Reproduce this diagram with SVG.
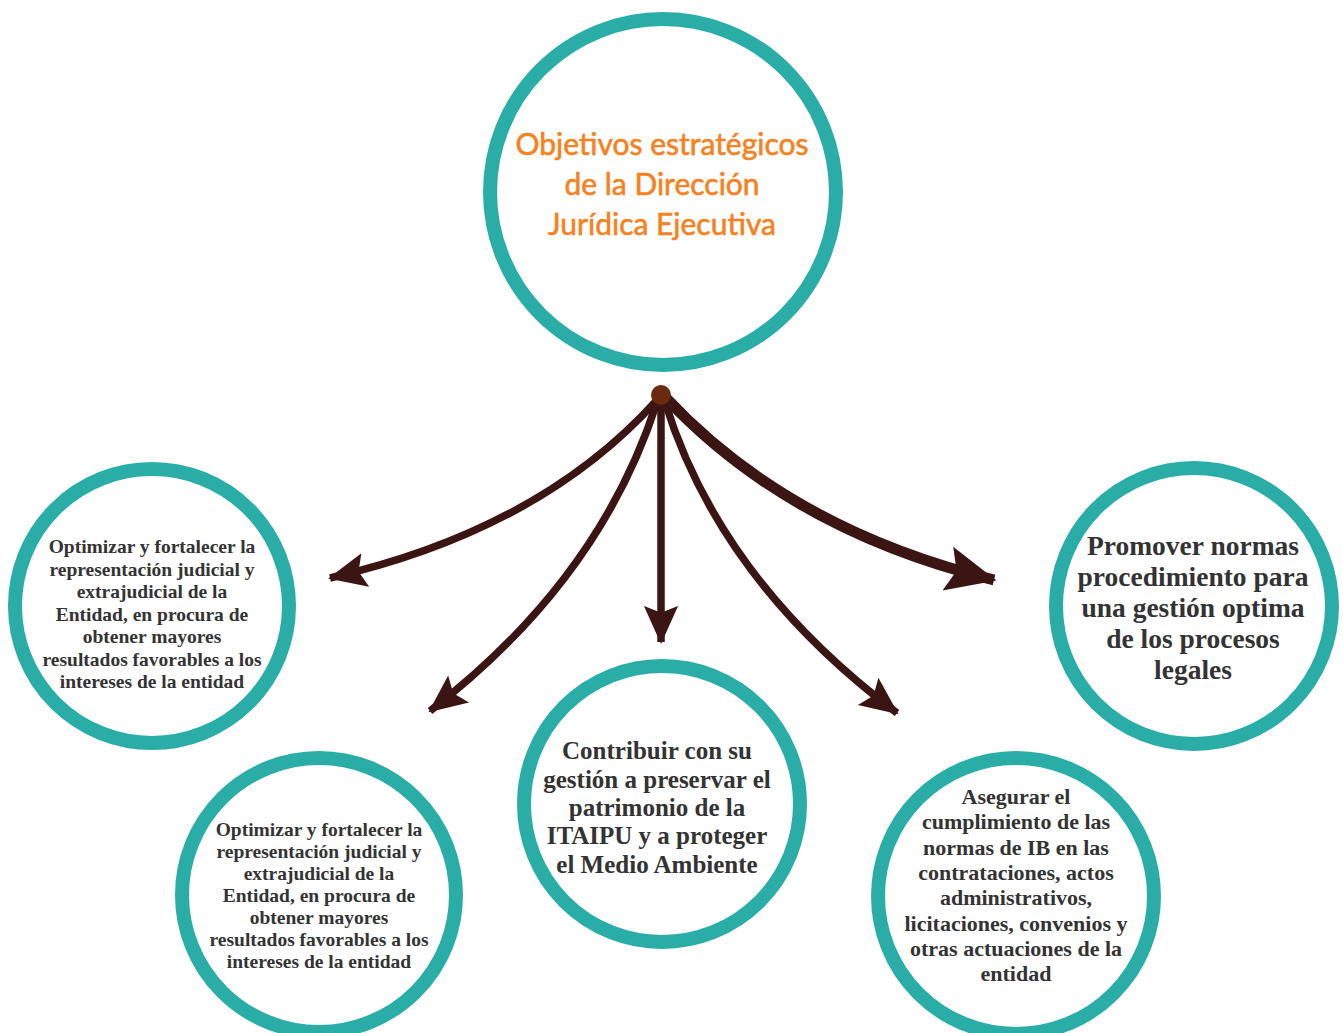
<svg xmlns="http://www.w3.org/2000/svg" width="1343" height="1033" viewBox="0 0 1343 1033">
<defs>
<style>
.ring{fill:#fff;stroke:#2aada7;stroke-width:14}
.title{font-family:Lato,"Open Sans",sans-serif;font-size:30px;fill:#f5821f;stroke:#f5821f;stroke-width:0.6;text-anchor:middle}
.t{font-family:"Liberation Serif","Times New Roman",serif;font-weight:bold;fill:#333;text-anchor:middle}
.arr{fill:none;stroke:#3b1414;stroke-linecap:butt}
</style>
<marker id="ah" viewBox="0 0 10 10" refX="9.5" refY="5" markerWidth="38" markerHeight="38" orient="auto" markerUnits="userSpaceOnUse">
<path d="M0,0.5 L10,5 L0,9.5 L1.8,5 Z" fill="#3b1414"/>
</marker>
<marker id="ahb" viewBox="0 0 10 10" refX="9.5" refY="5" markerWidth="50" markerHeight="50" orient="auto" markerUnits="userSpaceOnUse">
<path d="M0,0.5 L10,5 L0,9.5 L1.8,5 Z" fill="#3b1414"/>
</marker>
</defs>
<g id="connectors">
<path class="arr" stroke-width="7.5" d="M657,400 Q540,530 330,578" marker-end="url(#ah)"/>
<path class="arr" stroke-width="7.5" d="M657,402 Q600,580 430,711" marker-end="url(#ah)"/>
<path class="arr" stroke-width="7.5" d="M661,402 L661,642" marker-end="url(#ah)"/>
<path class="arr" stroke-width="7.5" d="M665,402 Q720,580 897,713" marker-end="url(#ah)"/>
<path class="arr" stroke-width="11" d="M666,398 Q790,530 994,580" marker-end="url(#ahb)"/>
<circle cx="661" cy="395" r="10" fill="#6a2a10"/>
</g>
<g id="center">
<circle class="ring" cx="663" cy="192" r="173"/>
<text class="title"><tspan x="662" y="155">Objetivos estratégicos</tspan><tspan x="662" y="195">de la Dirección</tspan><tspan x="662" y="235">Jurídica Ejecutiva</tspan></text>
</g>
<g id="n1">
<circle class="ring" cx="152" cy="606" r="137"/>
<text class="t" font-size="19.5"><tspan x="152" y="553">Optimizar y fortalecer la</tspan><tspan x="152" y="575.5">representación judicial y</tspan><tspan x="152" y="598">extrajudicial de la</tspan><tspan x="152" y="620.5">Entidad, en procura de</tspan><tspan x="152" y="643">obtener mayores</tspan><tspan x="152" y="665.5">resultados favorables a los</tspan><tspan x="152" y="688">intereses de la entidad</tspan></text>
</g>
<g id="n2">
<circle class="ring" cx="319" cy="895" r="137"/>
<text class="t" font-size="19.5"><tspan x="319" y="836">Optimizar y fortalecer la</tspan><tspan x="319" y="858">representación judicial y</tspan><tspan x="319" y="880">extrajudicial de la</tspan><tspan x="319" y="902">Entidad, en procura de</tspan><tspan x="319" y="924">obtener mayores</tspan><tspan x="319" y="946">resultados favorables a los</tspan><tspan x="319" y="968">intereses de la entidad</tspan></text>
</g>
<g id="n3">
<circle class="ring" cx="662" cy="804" r="138"/>
<text class="t" font-size="25"><tspan x="657" y="759">Contribuir con su</tspan><tspan x="657" y="788">gestión a preservar el</tspan><tspan x="657" y="816">patrimonio de la</tspan><tspan x="657" y="844">ITAIPU y a proteger</tspan><tspan x="657" y="873">el Medio Ambiente</tspan></text>
</g>
<g id="n4">
<circle class="ring" cx="1016" cy="896" r="138"/>
<text class="t" font-size="22"><tspan x="1016" y="804">Asegurar el</tspan><tspan x="1016" y="829">cumplimiento de las</tspan><tspan x="1016" y="854.5">normas de IB en las</tspan><tspan x="1016" y="880">contrataciones, actos</tspan><tspan x="1016" y="905">administrativos,</tspan><tspan x="1016" y="930.5">licitaciones, convenios y</tspan><tspan x="1016" y="956">otras actuaciones de la</tspan><tspan x="1016" y="981">entidad</tspan></text>
</g>
<g id="n5">
<circle class="ring" cx="1194" cy="606" r="138"/>
<text class="t" font-size="27.5"><tspan x="1193" y="555">Promover normas</tspan><tspan x="1193" y="586">procedimiento para</tspan><tspan x="1193" y="617">una gestión optima</tspan><tspan x="1193" y="648">de los procesos</tspan><tspan x="1193" y="679">legales</tspan></text>
</g>
</svg>
